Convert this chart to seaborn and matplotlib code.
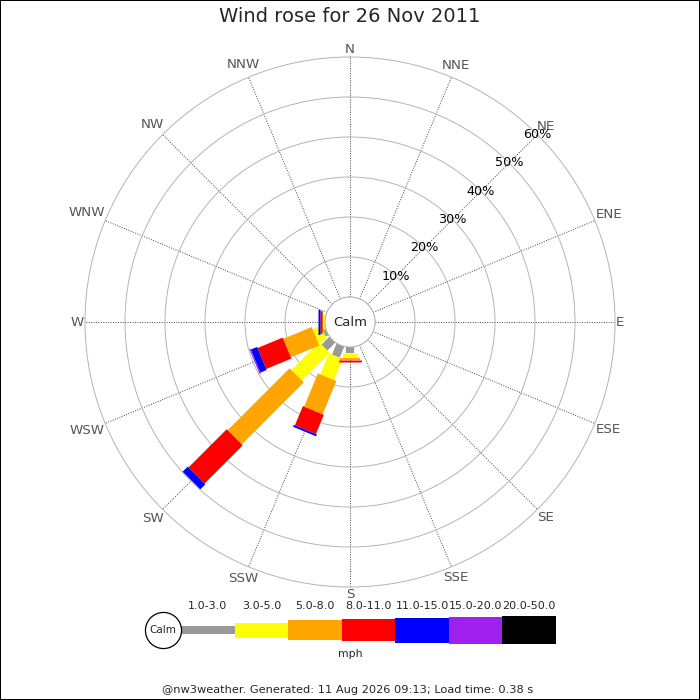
import numpy as np
import pandas as pd
import matplotlib
matplotlib.use("Agg")
import matplotlib.pyplot as plt
import seaborn as sns

# 16 compass points, clockwise from north
directions = ["N", "NNE", "NE", "ENE", "E", "ESE", "SE", "SSE",
              "S", "SSW", "SW", "WSW", "W", "WNW", "NW", "NNW"]
speed_bins = ["1.0-3.0", "3.0-5.0", "5.0-8.0", "8.0-11.0",
              "11.0-15.0", "15.0-20.0", "20.0-50.0"]

# percent of observations per direction and speed class (mph)
#            N  NNE NE ENE E ESE SE SSE S     SSW  SW    WSW  W     WNW NW NNW
freq_1_3   = [0, 0, 0, 0, 0, 0, 0, 0, 1.5,  3.0, 2.8,  0.8, 0.0,  0, 0, 0]
freq_3_5   = [0, 0, 0, 0, 0, 0, 0, 0, 1.25, 5.7, 9.8,  2.3, 0.5,  0, 0, 0]
freq_5_8   = [0, 0, 0, 0, 0, 0, 0, 0, 0.6,  9.0, 21.9, 7.7, 0.35, 0, 0, 0]
freq_8_11  = [0, 0, 0, 0, 0, 0, 0, 0, 0.5,  5.2, 13.5, 6.8, 0.35, 0, 0, 0]
freq_11_15 = [0, 0, 0, 0, 0, 0, 0, 0, 0.0,  0.5, 1.8,  1.7, 0.55, 0, 0, 0]
freq_15_20 = [0, 0, 0, 0, 0, 0, 0, 0, 0.0,  0.0, 0.0,  0.3, 0.0,  0, 0, 0]
freq_20_50 = [0, 0, 0, 0, 0, 0, 0, 0, 0.0,  0.0, 0.0,  0.0, 0.0,  0, 0, 0]

ring_ticks = [10, 20, 30, 40, 50, 60]
title = "Wind rose for 26 Nov 2011"
unit_label = "mph"
footer = "@nw3weather. Generated: 11 Aug 2026 09:13; Load time: 0.38 s"

# styling
bin_colors = ["#999999", "#ffff00", "#ffa500", "#ff0000",
              "#0000ff", "#a020f0", "#000000"]
bar_px = [8.3, 15, 20, 22.7, 25, 27, 28.3]   # bar thickness in pixels
ring_color = "#b4b4b4"
DPI = 100

freqs = [freq_1_3, freq_3_5, freq_5_8, freq_8_11,
         freq_11_15, freq_15_20, freq_20_50]

# long-form table: one radial segment per (direction, speed class)
rows = []
seg = 0
for i, d in enumerate(directions):
    theta = np.deg2rad(22.5 * i)
    r0 = 0.0
    for j, b in enumerate(speed_bins):
        v = freqs[j][i]
        if v <= 0:
            continue
        rows.append({"seg": seg, "bin": b, "theta": theta, "r": r0})
        rows.append({"seg": seg, "bin": b, "theta": theta, "r": r0 + v})
        r0 += v
        seg += 1
df = pd.DataFrame(rows)

sns.set_style("white")
plt.rcParams["font.family"] = ["DejaVu Sans"]

fig = plt.figure(figsize=(7, 7), dpi=DPI, facecolor="white",
                 edgecolor="black", linewidth=1.2)

ax = fig.add_axes([85 / 700, 113 / 700, 530 / 700, 530 / 700], projection="polar")
ax.set_theta_zero_location("N")
ax.set_theta_direction(-1)

sns.lineplot(data=df, x="theta", y="r", hue="bin", size="bin", units="seg",
             estimator=None, sort=False,
             hue_order=speed_bins, size_order=speed_bins,
             palette=dict(zip(speed_bins, bin_colors)),
             sizes=dict(zip(speed_bins, [w * 72 / DPI for w in bar_px])),
             legend=False, ax=ax, solid_capstyle="butt")

ax.set(xlabel="", ylabel="")
ax.set_ylim(0, 60)
ax.set_rorigin(-6.25)

thetas = np.deg2rad(np.arange(16) * 22.5)
ax.set_xticks(thetas)
ax.set_xticklabels([])
ax.set_yticks([0] + ring_ticks[:-1])
ax.set_yticklabels([])
ax.xaxis.grid(True, color="#444444", lw=0.7, ls=(0, (1, 1.5)))
ax.yaxis.grid(True, color=ring_color, lw=0.7, ls="-")
for name in ["polar", "inner"]:
    ax.spines[name].set_color(ring_color)
    ax.spines[name].set_linewidth(0.7)

for r in ring_ticks:
    ax.text(np.pi / 4, r, f"{r}%", ha="center", va="center", fontsize=9.2,
            color="black", zorder=5)
ax.text(0.5, 0.5, "Calm", transform=ax.transAxes, ha="center", va="center",
        fontsize=9.5, zorder=5)

# compass labels sit just outside the outer ring, pushed out by their own size
renderer = fig.canvas.get_renderer()
for th, d in zip(thetas, directions):
    t = ax.annotate(d, xy=(th, 60), xytext=(0, 0), textcoords="offset pixels",
                    ha="center", va="center", fontsize=9.6, color="#555555",
                    annotation_clip=False)
    bb = t.get_window_extent(renderer=renderer)
    s, c = np.sin(th), np.cos(th)
    off = 1.0 + bb.width / 2 * abs(s) + bb.height / 2 * abs(c)
    t.xyann = (off * s, off * c)

fig.text(0.5, 1 - 17 / 700, title, ha="center", va="center", fontsize=14)

# speed legend strip
lax = fig.add_axes([181 / 700, 50 / 700, 375 / 700, 40 / 700])
lax.set_xlim(0, len(speed_bins))
lax.set_ylim(-20, 20)
lax.axis("off")
h = np.array(bar_px)
lax.bar(np.arange(len(speed_bins)), h, bottom=-h / 2, width=1, align="edge",
        color=bin_colors, linewidth=0)
for j, b in enumerate(speed_bins):
    lax.text(j + 0.5, 24, b, ha="center", va="center", fontsize=8, clip_on=False)
lax.plot([-0.34], [0], "o", ms=26, mfc="white", mec="black", mew=0.9, clip_on=False)
lax.text(-0.34, 0, "Calm", ha="center", va="center", fontsize=7.5, clip_on=False)
fig.text(0.5, 1 - 654 / 700, unit_label, ha="center", va="center", fontsize=7.8)

fig.text(348 / 700, 1 - 690 / 700, footer, ha="center", va="center", fontsize=8.2)

fig.savefig("out.png", dpi=DPI, facecolor="white", edgecolor="black")
